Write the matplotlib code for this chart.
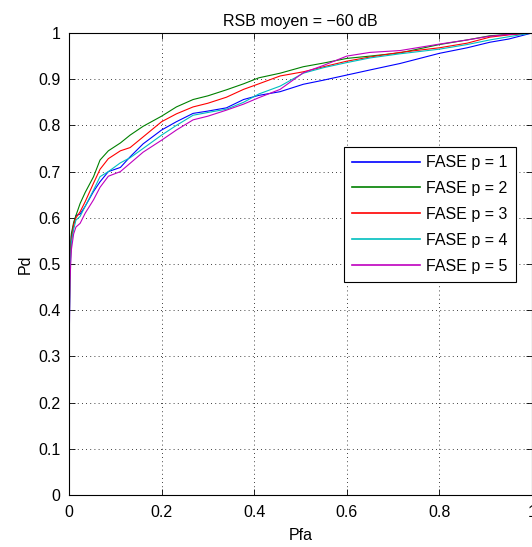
import matplotlib
matplotlib.use("Agg")
import matplotlib.pyplot as plt
import numpy as np

plt.rcParams['font.family'] = ['Liberation Sans', 'DejaVu Sans']

# pfa grid shared by all curves
pfa = [0, 0, 0.002, 0.005, 0.01, 0.015, 0.024, 0.035, 0.053, 0.067, 0.085,
       0.111, 0.132, 0.16, 0.2, 0.232, 0.268, 0.3, 0.34, 0.377, 0.41, 0.456,
       0.506, 0.55, 0.6, 0.65, 0.715, 0.8, 0.86, 0.909, 0.95, 1.0]

pd_p1 = [0, 0.25, 0.50, 0.56, 0.585, 0.605, 0.608, 0.625, 0.657, 0.678, 0.70,
         0.709, 0.732, 0.76, 0.79, 0.808, 0.826, 0.831, 0.838, 0.856, 0.865, 0.873,
         0.889, 0.898, 0.909, 0.920, 0.934, 0.956, 0.968, 0.980, 0.987, 1.0]
pd_p2 = [0, 0.30, 0.50, 0.565, 0.59, 0.605, 0.631, 0.655, 0.689, 0.725, 0.745,
         0.762, 0.779, 0.798, 0.820, 0.840, 0.856, 0.864, 0.877, 0.89, 0.903, 0.913,
         0.927, 0.935, 0.945, 0.950, 0.957, 0.975, 0.985, 0.994, 0.997, 1.0]
pd_p3 = [0, 0.36, 0.49, 0.55, 0.585, 0.60, 0.613, 0.635, 0.675, 0.705, 0.728,
         0.745, 0.752, 0.775, 0.808, 0.825, 0.840, 0.848, 0.861, 0.878, 0.89, 0.907,
         0.916, 0.927, 0.939, 0.948, 0.958, 0.968, 0.978, 0.991, 0.996, 1.0]
pd_p4 = [0, 0.30, 0.48, 0.545, 0.575, 0.595, 0.603, 0.625, 0.660, 0.689, 0.70,
         0.719, 0.73, 0.75, 0.779, 0.80, 0.822, 0.828, 0.835, 0.85, 0.868, 0.885,
         0.913, 0.925, 0.936, 0.946, 0.955, 0.965, 0.975, 0.985, 0.992, 1.0]
pd_p5 = [0, 0.29, 0.46, 0.53, 0.565, 0.58, 0.588, 0.61, 0.639, 0.666, 0.69,
         0.70, 0.718, 0.742, 0.768, 0.79, 0.812, 0.82, 0.833, 0.846, 0.86, 0.878,
         0.914, 0.93, 0.950, 0.958, 0.962, 0.976, 0.985, 0.993, 0.997, 1.0]

labels = ['FASE p = 1', 'FASE p = 2', 'FASE p = 3', 'FASE p = 4', 'FASE p = 5']
colors = ['#0000ff', '#008000', '#ff0000', '#00bfbf', '#bf00bf']
ticks = [0, 0.2, 0.4, 0.6, 0.8, 1]
yticks = [0, 0.1, 0.2, 0.3, 0.4, 0.5, 0.6, 0.7, 0.8, 0.9, 1]

fig = plt.figure(figsize=(5.32, 5.47), dpi=100)
ax = fig.add_axes([69 / 532, 52 / 547, 463 / 532, 462 / 547])

for pd, lab, c in zip([pd_p1, pd_p2, pd_p3, pd_p4, pd_p5], labels, colors):
    ax.plot(pfa, pd, color=c, lw=0.8, label=lab)

ax.set_xlim(0, 1)
ax.set_ylim(0, 1)
ax.set_xticks(ticks)
ax.set_xticklabels(['0', '0.2', '0.4', '0.6', '0.8', '1'])
ax.set_yticks(yticks)
ax.set_yticklabels(['0', '0.1', '0.2', '0.3', '0.4', '0.5', '0.6', '0.7', '0.8', '0.9', '1'])
ax.tick_params(direction='in', top=True, right=True, length=4, width=0.6,
               labelsize=11.5)
ax.tick_params(axis='x', pad=7)
ax.tick_params(axis='y', pad=6)
ax.grid(True, color='black', linestyle=(0, (1, 4)), linewidth=0.6)
for s in ax.spines.values():
    s.set_linewidth(0.8)

ax.set_title('RSB moyen = \u221260 dB', fontsize=11.5, pad=5)
ax.set_xlabel('Pfa', fontsize=11.5, labelpad=6)
ax.set_ylabel('Pd', fontsize=11.5, labelpad=4)

leg = ax.legend(loc='upper right', bbox_to_anchor=(0.965, 0.753), borderaxespad=0,
                fontsize=11.5, handlelength=4.25, handletextpad=0.4,
                labelspacing=0.68, borderpad=0.5, fancybox=False, framealpha=1,
                edgecolor='black')
leg.get_frame().set_linewidth(0.8)
for line in leg.get_lines():
    line.set_linewidth(1.2)

fig.savefig('out.png', dpi=100)
